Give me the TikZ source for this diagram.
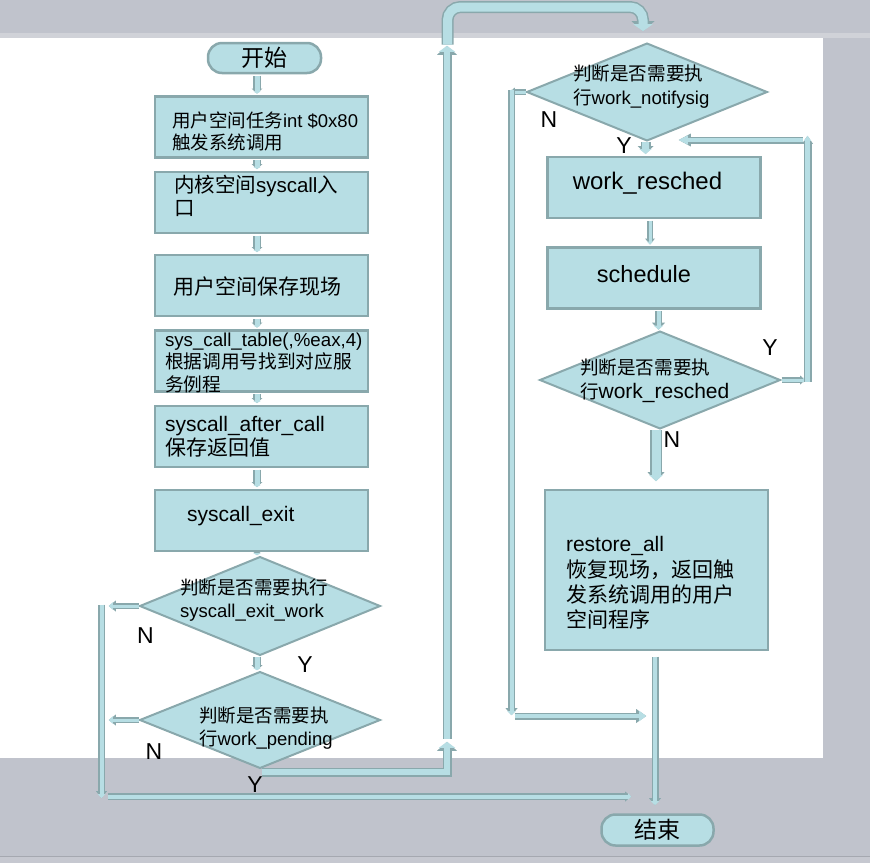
\documentclass[tikz,border=0pt]{standalone}
\usepackage{fontspec}
\setmainfont{Liberation Sans}
\newfontfamily\cjk{Noto Sans CJK SC}
\usetikzlibrary{arrows.meta,shapes.geometric}
\newcommand\zhs[1]{{\cjk #1}}
\definecolor{bg}{RGB}{192,195,204}
\definecolor{bglight}{RGB}{208,210,216}
\definecolor{bgdark}{RGB}{165,168,176}
\definecolor{bglow}{RGB}{198,200,208}
\definecolor{cfill}{RGB}{183,222,228}
\definecolor{cline}{RGB}{137,168,172}
\tikzset{
  blk/.style n args={3}{draw=cfill, line width=#1-3pt, shorten >=1.8pt, shorten <=1.5pt,
    -{Triangle[length=#3-3pt,width=#2-3.6pt,line width=0pt]},
    preaction={draw=cline, line width=#1, -{Triangle[length=#3,width=#2,line width=0pt]}}},
  term/.style={draw=cline, fill=cfill, line width=2.5pt, rounded corners=14pt,
    minimum width=113pt, minimum height=30pt, inner sep=0pt, font=\fontsize{23}{26}\selectfont},
  box/.style={draw=cline, fill=cfill, line width=2.4pt, minimum width=213pt,
    minimum height=61pt, inner sep=0pt},
  dia/.style={diamond, draw=cline, fill=cfill, line width=2pt, minimum width=240pt,
    minimum height=97pt, inner sep=0pt, outer sep=0pt},
  txt/.style={inner sep=0pt, outer sep=0pt, anchor=west, align=left, text=black},
  lab/.style={inner sep=0pt, font=\fontsize{23}{26}\selectfont, text=black}
}
\begin{document}
\begin{tikzpicture}[x=1pt,y=-1pt]
\useasboundingbox (0,0) rectangle (870,863);
\fill[bg] (0,0) rectangle (870,863);
\fill[bglight] (0,33) rectangle (870,37.5);
\fill[white] (0,38) rectangle (823,758);
\fill[bgdark] (0,855.5) rectangle (870,857);
\fill[bglow] (0,857) rectangle (870,863);

% ---------- left column ----------
\node[term] (start) at (264.5,58) {\raisebox{-5pt}{\zhs{开始}}};
\node[box] (b1) at (261.5,127) {};
\node[box] (b2) at (261.5,202.5) {};
\node[box] (b3) at (261.5,285.5) {};
\node[box] (b4) at (261.5,361) {};
\node[box] (b5) at (261.5,436.5) {};
\node[box] (b6) at (261.5,520.5) {};
\node[dia, minimum height=98pt] (d1) at (260,606) {};
\node[dia, minimum height=96pt] (d2) at (260,720) {};

\node[txt, font=\fontsize{18.5}{22}\selectfont] (t1) at (172,131)
  {\zhs{用户空间任务}int \$0x80\\\zhs{触发系统调用}};
\node[txt, font=\fontsize{20.5}{23}\selectfont] (t2) at (174,195.5)
  {\zhs{内核空间}syscall\zhs{入}\\\zhs{口}};
\node[txt, font=\fontsize{21}{24}\selectfont] (t3) at (173,287)
  {\zhs{用户空间保存现场}};
\node[txt, font=\fontsize{18.7}{22.5}\selectfont] (t4) at (165,362.5)
  {sys\_call\_table(,\%eax,4)\\\zhs{根据调用号找到对应服}\\\zhs{务例程}};
\node[txt, font=\fontsize{21}{24}\selectfont] (t5) at (165,437)
  {syscall\_after\_call\\\zhs{保存返回值}};
\node[txt, font=\fontsize{21}{24}\selectfont] (t6) at (187,516)
  {syscall\_exit};
\node[txt, font=\fontsize{18.5}{23}\selectfont] (t7) at (180,600.5)
  {\zhs{判断是否需要执行}\\syscall\_exit\_work};
\node[txt, font=\fontsize{18.5}{23}\selectfont] (t8) at (199,728.5)
  {\zhs{判断是否需要执}\\\zhs{行}work\_pending};

% ---------- right column ----------
\node[dia] (d3) at (647,92) {};
\node[box] (ws) at (654,187.5) {};
\node[box] (sc) at (654,278) {};
\node[dia] (d4) at (660,380) {};
\node[box, minimum width=223pt, minimum height=160pt] (ra) at (656.5,570) {};
\node[term, minimum width=112pt, minimum height=31pt] (end) at (657.5,830) {\raisebox{-1pt}{\zhs{结束}}};

\node[txt, font=\fontsize{18.6}{24}\selectfont] (t9) at (573,87)
  {\zhs{判断是否需要执}\\\zhs{行}work\_notifysig};
\node[inner sep=0pt, font=\fontsize{24}{26}\selectfont] (t10) at (647.5,183) {work\_resched};
\node[inner sep=0pt, font=\fontsize{23.5}{26}\selectfont] (t11) at (644,274) {schedule};
\node[txt, font=\fontsize{18.6}{24}\selectfont] (t12) at (580,381)
  {\zhs{判断是否需要执}\\\zhs{行}{\fontsize{21}{24}\selectfont work\_resched}};
\node[txt, font=\fontsize{21}{25.3}\selectfont] (t13) at (566,583)
  {restore\_all\\\zhs{恢复现场，返回触}\\\zhs{发系统调用的用户}\\\zhs{空间程序}};

% ---------- labels ----------
\node[lab] (n1) at (145.5,636) {N};
\node[lab] (y1) at (305,665) {Y};
\node[lab] (n2) at (154,752) {N};
\node[lab] (y2) at (255,785) {Y};
\node[lab] (n3) at (549,120) {N};
\node[lab] (y3) at (624,146) {Y};
\node[lab] (y4) at (770,348) {Y};
\node[lab] (n4) at (672,440) {N};

% ---------- coordinates ----------
\coordinate (ax) at (257,0);
\coordinate (lx) at (107,0);
\coordinate (vtop) at (101.5,603);
\coordinate (vbot) at (101.5,800);
\coordinate (hl) at (106,796.5);
\coordinate (hr) at (633,796.5);
\coordinate (m1c) at (447,772);
\coordinate (m1e) at (447,740);
\coordinate (m2e) at (447,44);
\coordinate (m3s) at (447.5,46);
\coordinate (m3a) at (447.5,7);
\coordinate (m3b) at (643,7);
\coordinate (m3e) at (643,33);
\coordinate (r1e) at (508,92);
\coordinate (r2s) at (511.5,88);
\coordinate (r2e) at (511.5,717);
\coordinate (r3s) at (513,716);
\coordinate (r3e) at (648,716);
\coordinate (r4x) at (645.5,0);
\coordinate (r5x) at (650,0);
\coordinate (r6x) at (658.5,0);
\coordinate (r7e) at (807,380);
\coordinate (r8s) at (807.5,383);
\coordinate (r8e) at (807.5,134);
\coordinate (r9s) at (804,140);
\coordinate (r9e) at (677,140);
\coordinate (r10x) at (656,0);
\coordinate (r10e) at (656,483);
\coordinate (r11s) at (655,655);
\coordinate (r11e) at (655,807);

% ---------- connectors ----------
\draw[blk={8pt}{11pt}{5pt}] (start.south -| ax) -- (b1.north -| ax);
\draw[blk={8pt}{11pt}{5pt}] (b1.south -| ax) -- (b2.north -| ax);
\draw[blk={8pt}{11pt}{5pt}] (b2.south -| ax) -- (b3.north -| ax);
\draw[blk={8pt}{11pt}{5pt}] (b3.south -| ax) -- (b4.north -| ax);
\draw[blk={8pt}{11pt}{5pt}] (b4.south -| ax) -- (b5.north -| ax);
\draw[blk={8pt}{11pt}{5pt}] (b5.south -| ax) -- (b6.north -| ax);
\draw[blk={8pt}{11pt}{5pt}] (b6.south -| ax) -- (d1.north -| ax);
\draw[blk={8pt}{11pt}{5pt}] (d1.south -| ax) -- (d2.north -| ax);

\draw[blk={6pt}{11pt}{7pt}] (d1.west) -- (d1.west -| lx);
\draw[blk={6pt}{11pt}{7pt}] (d2.west) -- (d2.west -| lx);
\draw[blk={7pt}{11pt}{7pt}] (vtop) -- (vbot);
\draw[blk={7pt}{10pt}{6pt}] (hl) -- (hr);

\draw[blk={9pt}{20pt}{9pt}] (d2.south |- m1c) -- (m1c) -- (m1e);
\draw[blk={12pt}{23pt}{10pt}, rounded corners=13pt] (m3s) -- (m3a) -- (m3b) -- (m3e);
\draw[blk={9pt}{20pt}{9pt}] (m1e) -- (m2e);

\draw[blk={6pt}{9pt}{5pt}] (d3.west) -- (r1e);
\draw[blk={7pt}{12pt}{7pt}] (r2s) -- (r2e);
\draw[blk={7pt}{14pt}{10pt}] (r3s) -- (r3e);
\draw[blk={10pt}{16pt}{8pt}] (d3.south -| r4x) -- (ws.north -| r4x);
\draw[blk={6pt}{10pt}{6pt}] (ws.south -| r5x) -- (sc.north -| r5x);
\draw[blk={7pt}{13pt}{7pt}] (sc.south -| r6x) -- (d4.north -| r6x);
\draw[blk={6pt}{9pt}{5pt}] (d4.east) -- (r7e);
\draw[blk={8pt}{11pt}{8pt}] (r8s) -- (r8e);
\draw[blk={7pt}{13pt}{12pt}] (r9s) -- (r9e);
\draw[blk={12pt}{17pt}{9pt}] (d4.south -| r10x) -- (r10e);
\draw[blk={7pt}{12pt}{7pt}] (r11s) -- (r11e);
\end{tikzpicture}
\end{document}
